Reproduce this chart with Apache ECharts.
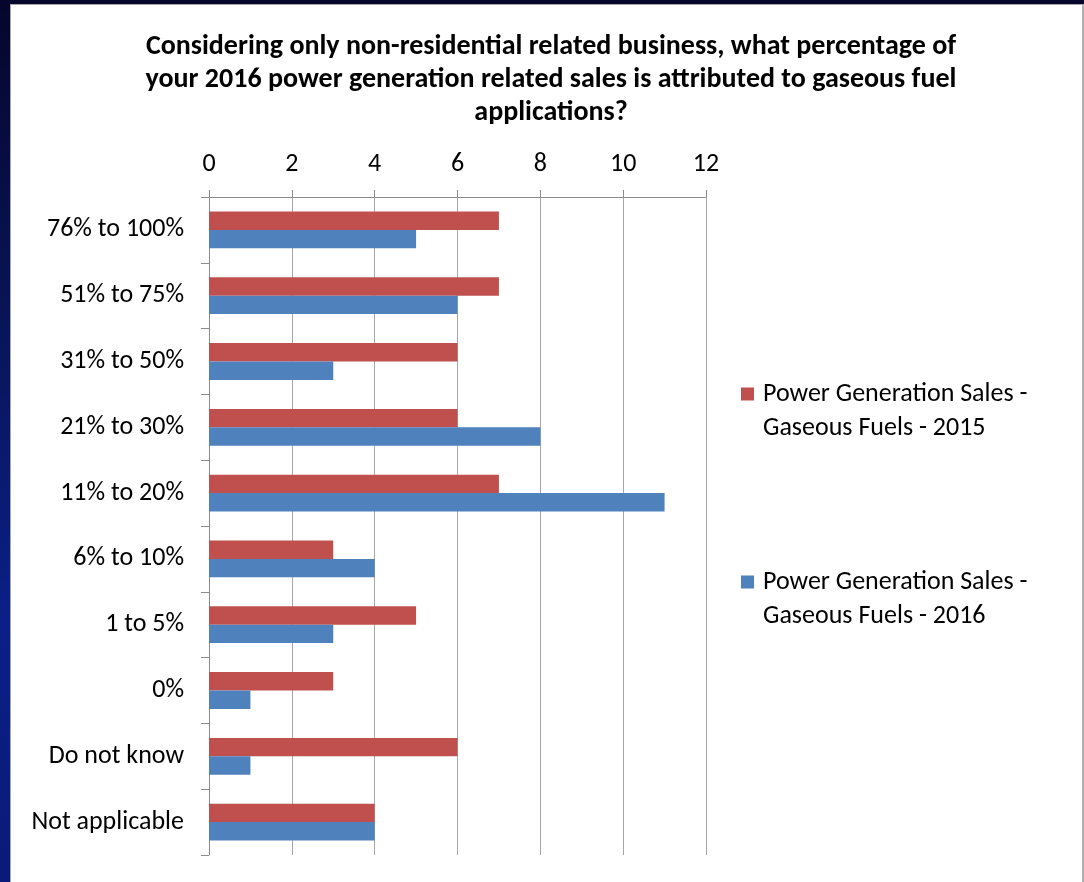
<!DOCTYPE html>
<html>
<head>
<meta charset="utf-8">
<title>Power Generation Sales - Gaseous Fuels</title>
<script src="https://cdn.jsdelivr.net/npm/echarts@6/dist/echarts.min.js"></script>
<style>
  html, body { margin: 0; padding: 0; width: 1084px; height: 882px; overflow: hidden; }
  body { background: linear-gradient(180deg, #06062c 0%, #081456 35%, #0b1f86 70%, #0a1a78 100%); position: relative; }
  #panel { position: absolute; left: 10px; top: 4px; width: 1071px; height: 880px; background: #ffffff; border-left: 1px solid #a8a8a8; border-top: 1px solid #a8a8a8; border-right: 2px solid #b0b0b0; }
  #chart { position: absolute; left: 0; top: 0; width: 1084px; height: 882px; }
</style>
</head>
<body>
<div id="panel"></div>
<div id="chart"></div>
<script>
// Answer buckets, listed top to bottom
const categories = ['76% to 100%', '51% to 75%', '31% to 50%', '21% to 30%', '11% to 20%', '6% to 10%', '1 to 5%', '0%', 'Do not know', 'Not applicable'];
const seriesNames = ['Power Generation Sales - Gaseous Fuels - 2015', 'Power Generation Sales - Gaseous Fuels - 2016'];
const sales2015 = [7, 7, 6, 6, 7, 3, 5, 3, 6, 4];
const sales2016 = [5, 6, 3, 8, 11, 4, 3, 1, 1, 4];
const titleLines = [
  'Considering only non-residential related business, what percentage of',
  'your 2016 power generation related sales is attributed to gaseous fuel',
  'applications?'
];

const FONT = 'Carlito, Lato, "Open Sans", sans-serif';
const RED = '#C0504D';
const BLUE = '#4F81BD';
const GRID_GREY = '#a6a6a6';
const AXIS_GREY = '#8c8c8c';

// Legend labels wrap onto two lines; a leading blank line keeps the
// swatch level with the first line of the label
function wrapLegend(name) {
  const cut = name.indexOf('Gaseous');
  return '\n' + name.slice(0, cut).trim() + '\n' + name.slice(cut);
}

const legendText = {
  fontFamily: FONT,
  fontSize: 26,
  color: '#000',
  lineHeight: 34,
  padding: [0, 0, 0, 4]
};

const chart = echarts.init(document.getElementById('chart'), null, { renderer: 'canvas' });

chart.setOption({
  backgroundColor: 'transparent',
  animation: false,
  textStyle: { fontFamily: FONT },
  title: {
    text: titleLines.join('\n'),
    left: 546,
    textAlign: 'center',
    top: 25,
    textStyle: { fontFamily: FONT, fontSize: 28, fontWeight: 'bold', color: '#000', lineHeight: 33 }
  },
  legend: [
    {
      data: [seriesNames[0]],
      left: 741,
      top: 343,
      padding: 0,
      itemWidth: 13,
      itemHeight: 13,
      itemGap: 8,
      icon: 'rect',
      formatter: wrapLegend,
      textStyle: legendText
    },
    {
      data: [seriesNames[1]],
      left: 741,
      top: 531,
      padding: 0,
      itemWidth: 13,
      itemHeight: 13,
      itemGap: 8,
      icon: 'rect',
      formatter: wrapLegend,
      textStyle: legendText
    }
  ],
  grid: { left: 209, right: 378, top: 197, bottom: 27, containLabel: false },
  xAxis: {
    type: 'value',
    position: 'top',
    min: 0,
    max: 12,
    interval: 2,
    axisLine: { show: true, lineStyle: { color: AXIS_GREY, width: 1 } },
    axisTick: { show: true, length: 7, lineStyle: { color: AXIS_GREY } },
    axisLabel: { fontFamily: FONT, fontSize: 26, color: '#000', margin: 20 },
    splitLine: { show: true, lineStyle: { color: GRID_GREY, width: 1 } }
  },
  yAxis: {
    type: 'category',
    data: categories,
    inverse: true,
    axisLine: { show: true, lineStyle: { color: AXIS_GREY, width: 1 } },
    axisTick: { show: true, length: 8, lineStyle: { color: AXIS_GREY } },
    axisLabel: { fontFamily: FONT, fontSize: 26, color: '#000', margin: 25 },
    splitLine: { show: false }
  },
  series: [
    {
      name: seriesNames[0],
      type: 'bar',
      data: sales2015,
      itemStyle: { color: RED },
      barGap: '0%',
      barCategoryGap: '44%'
    },
    {
      name: seriesNames[1],
      type: 'bar',
      data: sales2016,
      itemStyle: { color: BLUE },
      barGap: '0%',
      barCategoryGap: '44%'
    }
  ]
});
</script>
</body>
</html>
